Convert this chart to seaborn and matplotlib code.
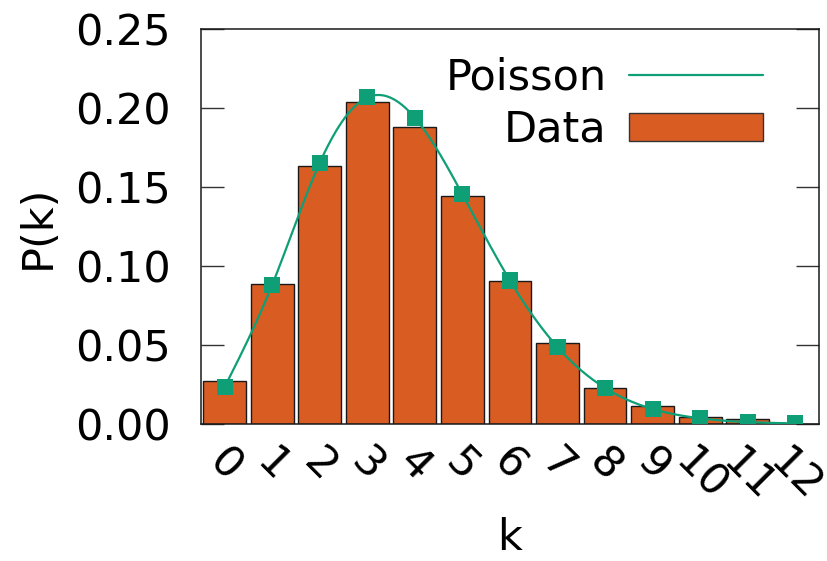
import numpy as np
import pandas as pd
import matplotlib
matplotlib.use("Agg")
import matplotlib.pyplot as plt
from matplotlib.lines import Line2D
from matplotlib.patches import Patch
import seaborn as sns

# Degree k and the measured / Poisson probabilities P(k)
k_values = list(range(13))
data_pk = [0.0273, 0.0886, 0.1632, 0.2035, 0.1878, 0.1443, 0.0905,
           0.0510, 0.0225, 0.0112, 0.0046, 0.0032, 0.0]
poisson_pk = [0.0235, 0.0882, 0.1654, 0.2067, 0.1938, 0.1453, 0.0908,
              0.0487, 0.0228, 0.0095, 0.0036, 0.0012, 0.0004]
y_ticks = [0.00, 0.05, 0.10, 0.15, 0.20, 0.25]

BAR_COLOR = "#d95d22"
LINE_COLOR = "#0e9f76"
FS = 31


def natural_spline(x, y, xs):
    """Natural cubic spline through (x, y), evaluated at xs."""
    x = np.asarray(x, float)
    y = np.asarray(y, float)
    n = len(x)
    h = np.diff(x)
    A = np.zeros((n, n))
    b = np.zeros(n)
    A[0, 0] = A[-1, -1] = 1.0
    for i in range(1, n - 1):
        A[i, i - 1] = h[i - 1]
        A[i, i] = 2 * (h[i - 1] + h[i])
        A[i, i + 1] = h[i]
        b[i] = 6 * ((y[i + 1] - y[i]) / h[i] - (y[i] - y[i - 1]) / h[i - 1])
    M = np.linalg.solve(A, b)
    idx = np.clip(np.searchsorted(x, xs) - 1, 0, n - 2)
    x0, x1 = x[idx], x[idx + 1]
    hh = x1 - x0
    t0, t1 = x1 - xs, xs - x0
    return (M[idx] * t0**3 / (6 * hh) + M[idx + 1] * t1**3 / (6 * hh)
            + (y[idx] / hh - M[idx] * hh / 6) * t0
            + (y[idx + 1] / hh - M[idx + 1] * hh / 6) * t1)


sns.set_style("white")
plt.rcParams["font.family"] = ["DejaVu Sans"]
plt.rcParams["font.size"] = FS
plt.rcParams["text.color"] = "black"
plt.rcParams["axes.labelcolor"] = "black"
plt.rcParams["xtick.color"] = "black"
plt.rcParams["ytick.color"] = "black"

df = pd.DataFrame({"k": k_values, "data": data_pk, "poisson": poisson_pk})

fig = plt.figure(figsize=(8.27, 5.61), dpi=100)
ax = fig.add_axes([0.2430, 0.2442, 0.9903 - 0.2430, 0.9483 - 0.2442])

sns.barplot(data=df, x="k", y="data", color=BAR_COLOR, saturation=1,
            width=0.9, edgecolor="#1a1a1a", linewidth=1.0, ax=ax, zorder=2)

xs = np.linspace(k_values[0], k_values[-1], 400)
ax.plot(xs, natural_spline(k_values, poisson_pk, xs), color=LINE_COLOR,
        lw=1.6, zorder=3)
sns.scatterplot(data=df, x="k", y="poisson", marker="s", s=135,
                color=LINE_COLOR, edgecolor="none", ax=ax, zorder=4)

ax.set_xlim(-0.5, 12.5)
ax.set_ylim(0, 0.25)
ax.set_yticks(y_ticks)
ax.set_yticklabels([f"{v:.2f}" for v in y_ticks])
ax.set_xticks(k_values)
ax.set_xticklabels([str(v) for v in k_values], rotation=-45,
                   ha="center", va="top")

for s in ax.spines.values():
    s.set_visible(True)
    s.set_color("#1a1a1a")
    s.set_linewidth(1.1)

ax.tick_params(axis="y", direction="in", length=16.5, width=1.0,
               color="#333333", left=True, right=True, pad=22,
               labelsize=FS, labelcolor="black")
ax.tick_params(axis="x", length=0, pad=12, labelsize=FS, labelcolor="black")

ax.set_xlabel("k", fontsize=FS, va="baseline", color="black")
ax.xaxis.set_label_coords(0.5, -0.320)
ax.set_ylabel("P(k)", fontsize=FS, va="baseline", color="black")
ax.yaxis.set_label_coords(-0.2443, 0.5)

handles = [Line2D([], [], color=LINE_COLOR, lw=1.6),
           Patch(facecolor=BAR_COLOR, edgecolor="#333333", linewidth=1.0)]
leg = ax.legend(handles, ["Poisson", "Data"], loc="upper right",
                bbox_to_anchor=(0.9097, 0.930), borderaxespad=0,
                borderpad=0, frameon=False, markerfirst=False,
                handlelength=3.12, handleheight=0.62, handletextpad=0.52,
                labelspacing=0.24, fontsize=FS)
for t in leg.get_texts():
    t.set_color("black")

fig.savefig("out.png", dpi=100)
